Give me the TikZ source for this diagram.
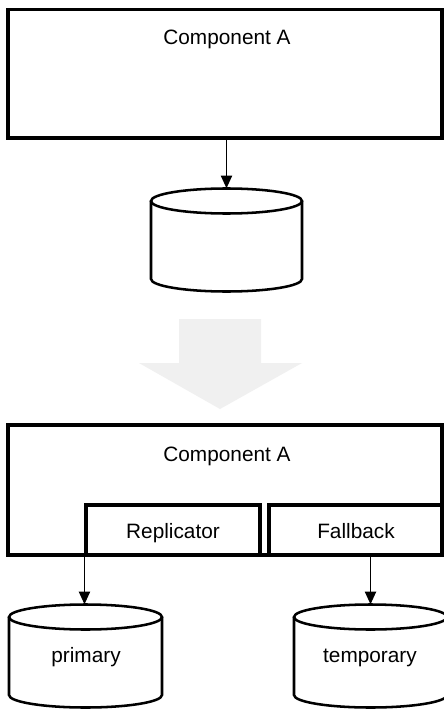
\documentclass[tikz,border=0pt]{standalone}
\usepackage{fontspec}
\setmainfont{Liberation Sans}
\usetikzlibrary{arrows.meta,fit}
\definecolor{shadegrey}{RGB}{240,240,240}
\begin{document}
\begin{tikzpicture}[x=0.75pt,y=-0.75pt,
  frame/.style={draw,line width=2.3pt,inner sep=0pt},
  area/.style={inner sep=0pt},
  lbl/.style={inner sep=0pt,anchor=base,font=\fontsize{15.6}{18}\selectfont},
  cyl/.style={line width=1.9pt},
  link/.style={line width=0.9pt,-{Triangle[length=9.5pt,width=8.5pt]}}]
\useasboundingbox (0,0) rectangle (443,709);
\fill[white] (0,0) rectangle (443,709);

% ---- before: component writing to a single store ----
\node[frame,fit={(8,9.5)(442,138)}] (compA) {};
\node[lbl] (compAlabel) at (227,44.5) {Component A};

\node[area,fit={(151,188.5)(302,291.5)}] (store) {};
\draw[cyl] (151,201) -- (151,279)
  arc[start angle=180,end angle=360,x radius=56.625pt,y radius=9.375pt] -- (302,201);
\draw[cyl,fill=white] (226.5,201) ellipse[x radius=56.625pt,y radius=9.375pt];

\draw[link] (compA.south -| store.north) -- (store.north);

% ---- transition arrow ----
\fill[shadegrey] (179,319) -- (261,319) -- (261,363) -- (302,363) -- (220,409)
  -- (139,363) -- (179,363) -- cycle;

% ---- after: replicator and fallback writing to two stores ----
\node[frame,fit={(8,425)(442,555)}] (compB) {};
\node[lbl] (compBlabel) at (227,461.5) {Component A};

\node[frame,fit={(86,505)(260,555)}] (rep) {};
\node[lbl] (replabel) at (173,538) {Replicator};
\node[frame,fit={(269,505)(442,555)}] (fb) {};
\node[lbl] (fblabel) at (356,538) {Fallback};

\node[area,fit={(9,604.5)(162,707.5)}] (prim) {};
\draw[cyl] (9,617) -- (9,695)
  arc[start angle=180,end angle=360,x radius=57.375pt,y radius=9.375pt] -- (162,617);
\draw[cyl] (85.5,617) ellipse[x radius=57.375pt,y radius=9.375pt];
\node[lbl] (primlabel) at (86,662) {primary};

\node[area,fit={(294,604.5)(447,707.5)}] (temp) {};
\draw[cyl] (294,617) -- (294,695)
  arc[start angle=180,end angle=360,x radius=57.375pt,y radius=9.375pt] -- (447,617);
\draw[cyl] (370.5,617) ellipse[x radius=57.375pt,y radius=9.375pt];
\node[lbl] (templabel) at (370,662) {temporary};

\draw[link] (rep.south west) -- (rep.south west |- prim.north);
\draw[link] (temp.north |- fb.south) -- (temp.north);
\end{tikzpicture}
\end{document}
